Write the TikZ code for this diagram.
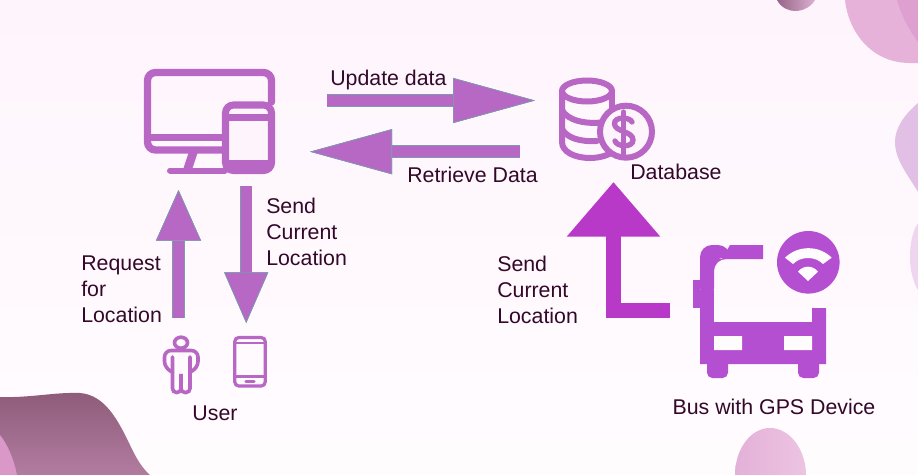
\documentclass[tikz,border=0pt]{standalone}
\usepackage{fontspec}
\setmainfont{Liberation Sans}
\usetikzlibrary{arrows.meta, positioning}
\definecolor{bgtop}{HTML}{FEF5FC}
\definecolor{bgbottom}{HTML}{FFFCFE}
\definecolor{iconcol}{HTML}{B868C4}
\definecolor{arrowcol}{HTML}{B668C4}
\definecolor{edgecol}{HTML}{7E9AB0}
\definecolor{buscol}{HTML}{B34FD0}
\definecolor{bigarrow}{HTML}{B838C8}
\definecolor{textcol}{HTML}{33082A}
\definecolor{blobdark}{HTML}{8E5C7A}
\definecolor{blobmid}{HTML}{B27CA0}
\definecolor{blobpink}{HTML}{DA98C8}
\definecolor{blobtop}{HTML}{E7B2DA}
\definecolor{blobtopb}{HTML}{DEA0D0}
\definecolor{blobright}{HTML}{E2C0E6}
\definecolor{blobrightb}{HTML}{EED6EE}
\definecolor{blobround}{HTML}{E4B0D8}
\definecolor{blobroundb}{HTML}{ECC4E2}
\definecolor{blobsmall}{HTML}{966487}
\definecolor{blobsmallb}{HTML}{DCAFD0}
\tikzset{
  diagram/.style={
	x=0.75pt, y=-0.75pt, % one unit is one pixel of the reference
	every node/.style={text=textcol, font=\fontsize{16}{19}\selectfont, inner sep=0pt, align=left},
  },
  blockarrow/.style 2 args={
	preaction={draw=edgecol, line width=9.4pt}, % thin outline of the shaft
	draw=arrowcol, line width=8pt,
	-{Triangle[length=#1, width=#2, fill=arrowcol, color=edgecol, line width=.5pt]},
  },
  icon/.style={draw=iconcol, line width=#1, line cap=round},
}

\begin{document}
\begin{tikzpicture}[diagram]
	  % background and blobs
	  \useasboundingbox (0,0) rectangle (918,475);
	  \shade[top color=bgtop, bottom color=bgbottom] (0,0) rectangle (918,475);
	  \shade[left color=blobsmall, right color=blobsmallb]
		(777,0) .. controls (781,8) and (789,11) .. (795,11) .. controls (803,11) and (811,7) .. (815,0) -- cycle;
	  \fill[blobtop]
		(845,0) .. controls (848,30) and (870,63) .. (910,63) -- (918,63) -- (918,0) -- cycle;
	  \fill[blobtopb]
		(897,0) .. controls (901,15) and (909,30) .. (918,42) -- (918,0) -- cycle;
	  \fill[blobright]
		(918,103) .. controls (904,115) and (895,128) .. (895,142) .. controls (895,160) and (908,175) .. (918,192) -- cycle;
	  \fill[blobrightb]
		(918,223) .. controls (912,232) and (910,245) .. (910,257) .. controls (910,270) and (913,282) .. (918,290) -- cycle;
	  \shade[left color=blobround, right color=blobroundb]
		(735,475) .. controls (735,450) and (750,428) .. (770,428) .. controls (790,428) and (806,450) .. (806,475) -- cycle;
	  \shade[top color=blobdark, bottom color=blobmid]
		(0,397) .. controls (30,398) and (55,392) .. (80,393) .. controls (105,395) and (118,420) .. (130,445) .. controls (136,458) and (142,468) .. (150,475) -- (0,475) -- cycle;
	  \fill[blobpink]
		(0,435) .. controls (8,445) and (14,460) .. (17,475) -- (0,475) -- cycle;

	  % monitor with tablet
	  \draw[icon=5.5pt, rounded corners=6pt] (222,150) -- (147.5,150) -- (147.5,72.5) -- (271.5,72.5) -- (271.5,102);
	  \draw[icon=5pt, line cap=butt] (151,137.5) -- (222,137.5);
	  \fill[iconcol] (188.5,153) -- (197.5,153) -- (192.5,168) -- (183.5,168) -- cycle;
	  \draw[icon=4.5pt] (170,170.5) -- (225,170.5);
	  \draw[icon=5.3pt, rounded corners=6pt, fill=bgtop] (225.5,170.5) -- (225.5,105) -- (271.5,105) -- (271.5,170.5) -- cycle;
	  \draw[icon=5pt, line cap=butt] (225,117.5) -- (272,117.5) (225,163.5) -- (272,163.5);

	  % database with coin
	  \draw[icon=4.5pt] (587,91) ellipse (25 and 10.5);
	  \draw[icon=4.5pt] (562,91) -- (562,142) .. controls (562,152) and (575,158) .. (590,158) .. controls (600,158) and (610,155) .. (615,150);
	  \draw[icon=4.5pt] (562,110) .. controls (567,120) and (585,125) .. (605,122);
	  \draw[icon=4.5pt] (562,129) .. controls (567,138) and (580,142) .. (597,141);
	  \draw[icon=4.5pt] (612,91) -- (612,110);
	  \draw[icon=4.5pt, fill=bgtop] (626,131.7) circle (26);
	  \draw[icon=4pt] (632,122) .. controls (630,117) and (614,116) .. (614.5,124) .. controls (615,132) and (633,131) .. (633,140) .. controls (633,148) and (617,147) .. (615,141);
	  \draw[icon=4pt] (623.5,112) -- (623.5,155);

	  % person and phone
	  \draw[icon=2.7pt] (181,342.7) ellipse (6.5 and 5.5);
	  \draw[icon=2.7pt, rounded corners=5pt] (172.5,372) -- (164.5,368) -- (164.5,350.5) -- (198,350.5) -- (198,368) -- (190,372);
	  \draw[icon=2.7pt, rounded corners=3pt] (172.5,357) -- (172.5,392.5) -- (181,392.5) -- (181,371.5) -- (181,392.5) -- (190,392.5) -- (190,357);
	  \draw[icon=2.4pt, rounded corners=3pt] (234.8,337.5) rectangle (265.2,386);
	  \draw[icon=2.2pt, line cap=butt] (234.8,343) -- (265.2,343) (234.8,376.5) -- (265.2,376.5);
	  \draw[icon=2.6pt] (246,381.3) -- (254,381.3);

	  % bus with gps
	  \fill[buscol, rounded corners=9pt] (700,300) -- (700,245) -- (730,245) -- (730,259) -- (714,259) -- (714,300) -- cycle;
	  \fill[buscol] (730,245) -- (763,245) -- (763,259) -- (722,259) -- cycle;
	  \fill[buscol] (700,290) rectangle (714,322);
	  \fill[buscol] (700,322) -- (812,322) -- (812,308) -- (826,308) -- (826,364) -- (700,364) -- cycle;
	  \fill[buscol] (693,280) rectangle (700,308);
	  \fill[bgbottom] (714,336) rectangle (742,350) (784,336) rectangle (812,350);
	  \fill[buscol, rounded corners=4pt] (707,355) -- (707,378) -- (728,378) -- (728,355) -- cycle;
	  \fill[buscol, rounded corners=4pt] (798,355) -- (798,378) -- (819,378) -- (819,355) -- cycle;
	  \fill[buscol] (808.3,262.3) circle (31.3);
	  \fill[bgbottom] (785,257.7) .. controls (798,245) and (819,245) .. (831.7,257.7) -- (823,264) .. controls (815,256) and (801,256) .. (793,264) -- cycle;
	  \fill[bgbottom] (798,271.7) .. controls (803,265) and (813,265) .. (818,271.7) -- (808,281) -- cycle;

	  % labels
	  \node[anchor=west] (update) at (330,80) {Update data};
	  \node[anchor=west] (retrieve) at (407,175) {Retrieve Data};
	  \node[anchor=north west] (sendphone) at (266,198) {Send\\[0.3pt]Current\\[0.3pt]Location};
	  \node[anchor=north west] (request) at (81,256) {Request\\[0.3pt]for\\[0.3pt]Location};
	  \node (user) at (215,413) {User};
	  \node[anchor=west] (database) at (630,172) {Database};
	  \node[anchor=north west] (sendbus) at (497,256) {Send\\[0.3pt]Current\\[0.3pt]Location};
	  \node (bus) at (774,407) {Bus with GPS Device};

	  % arrows
	  \coordinate (updateA) at (327,100.5);
	  \coordinate (updateB) at (535,100.5);
	  \coordinate (retrieveA) at (520,151.7);
	  \coordinate (retrieveB) at (310,151.7);
	  \coordinate (phoneA) at (246.2,186);
	  \coordinate (phoneB) at (246.2,323);
	  \coordinate (userA) at (178.5,318);
	  \coordinate (userB) at (178.5,190);
	  \coordinate (busA) at (670,310.5);
	  \coordinate (busC) at (613.5,310.5);
	  \coordinate (busB) at (613.5,182);
	  \draw[blockarrow={61.5pt}{33.75pt}] (updateA) -- (updateB);
	  \draw[blockarrow={61.5pt}{33.75pt}] (retrieveA) -- (retrieveB);
	  \draw[blockarrow={38pt}{33pt}] (phoneA) -- (phoneB);
	  \draw[blockarrow={38pt}{33.75pt}] (userA) -- (userB);
	  \draw[draw=bigarrow, line width=11.5pt, -{Triangle[length=41pt, width=67.5pt, fill=bigarrow, color=bigarrow]}] (busA) -- (busC) -- (busB);
	  \end{tikzpicture}
\end{document}
